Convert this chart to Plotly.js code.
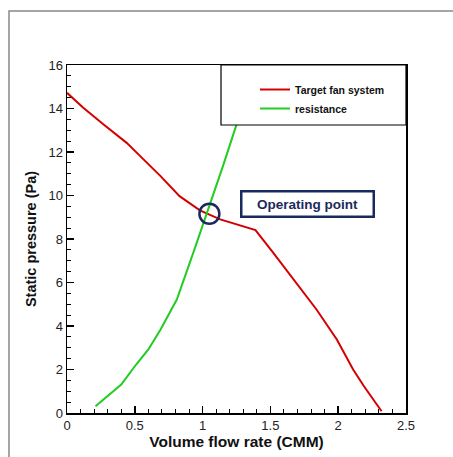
<!DOCTYPE html>
<html>
<head>
<meta charset="utf-8">
<script src="https://cdn.plot.ly/plotly-3.0.1.min.js"></script>
<style>
  html, body { margin: 0; padding: 0; background: #fff; }
  #chart { width: 453px; height: 457px; }
</style>
</head>
<body>
<div id="chart"></div>
<script>
// Target fan system curve
const fanFlow = [0, 0.12, 0.27, 0.44, 0.54, 0.69, 0.83, 0.98, 1.13, 1.28, 1.39, 1.52, 1.71, 1.84, 1.99, 2.11, 2.19, 2.32];
const fanPressure = [14.72, 14.03, 13.26, 12.42, 11.81, 10.89, 9.97, 9.32, 8.9, 8.62, 8.41, 7.37, 5.83, 4.76, 3.38, 2.0, 1.23, 0.08];
// System resistance curve
const resFlow = [0.21, 0.40, 0.51, 0.60, 0.69, 0.81, 0.94, 1.05, 1.15, 1.25, 1.31];
const resPressure = [0.31, 1.31, 2.23, 2.92, 3.84, 5.22, 7.52, 9.51, 11.35, 13.26, 14.6];
// Operating point
const opFlow = [1.05];
const opPressure = [9.16];
const opLabel = "Operating point";

const navy = '#1b2a5c';

const traces = [
  { x: fanFlow, y: fanPressure, type: 'scatter', mode: 'lines', name: 'Target fan system',
    line: { color: '#d40000', width: 2 } },
  { x: resFlow, y: resPressure, type: 'scatter', mode: 'lines', name: 'resistance',
    line: { color: '#22cc22', width: 2 } },
  { x: opFlow, y: opPressure, type: 'scatter', mode: 'markers', showlegend: false,
    marker: { symbol: 'circle-open', size: 20, color: navy, line: { color: navy, width: 2.5 } } }
];

const L = 67, R = 47, T = 65, B = 44;
const PW = 453 - L - R, PH = 457 - T - B;
const px = v => (v - L) / PW;
const py = v => (457 - B - v) / PH;

const layout = {
  width: 453, height: 457,
  margin: { l: L, r: R, t: T, b: B },
  paper_bgcolor: '#fff', plot_bgcolor: '#fff',
  font: { family: 'Liberation Sans, Arial, sans-serif', color: '#111' },
  showlegend: true,
  legend: {
    x: px(255), y: py(75), xanchor: 'left', yanchor: 'top',
    bgcolor: 'rgba(0,0,0,0)', borderwidth: 0,
    font: { size: 10.5, color: '#111', family: 'Liberation Sans, Arial, sans-serif', weight: 'bold' },
    tracegroupgap: 0, itemwidth: 30
  },
  xaxis: {
    range: [0, 2.5], dtick: 0.5, tick0: 0,
    ticks: 'inside', ticklen: 7, tickwidth: 1.5, tickcolor: '#000',
    minor: { dtick: 0.1, ticks: 'inside', ticklen: 4, tickwidth: 1, tickcolor: '#000' },
    showline: true, linecolor: '#000', linewidth: 1.5, mirror: true,
    showgrid: false, zeroline: false,
    tickfont: { size: 13, color: '#222' },
    title: { text: 'Volume flow rate (CMM)', standoff: 2,
      font: { size: 15.5, color: '#111', weight: 'bold' } }
  },
  yaxis: {
    range: [0, 16], dtick: 2, tick0: 0,
    ticks: 'inside', ticklen: 7, tickwidth: 1.5, tickcolor: '#000',
    minor: { dtick: 0.5, ticks: 'inside', ticklen: 4, tickwidth: 1, tickcolor: '#000' },
    showline: true, linecolor: '#000', linewidth: 1.5, mirror: true,
    showgrid: false, zeroline: false,
    tickfont: { size: 13, color: '#222' },
    title: { text: 'Static pressure (Pa)', standoff: 8,
      font: { size: 14.5, color: '#111', weight: 'bold' } }
  },
  shapes: [
    // outer frame
    { type: 'rect', xref: 'paper', yref: 'paper',
      x0: px(9), x1: px(470), y0: py(470), y1: py(11),
      line: { color: '#888', width: 1.5 }, fillcolor: 'rgba(0,0,0,0)', layer: 'below' },
    // legend box
    { type: 'rect', xref: 'paper', yref: 'paper',
      x0: px(221), x1: 1, y0: py(125), y1: 1,
      line: { color: '#000', width: 1.2 }, fillcolor: '#fff', layer: 'above' }
  ],
  annotations: [
    { x: 1.77, y: 9.63, xref: 'x', yref: 'y', text: '<b>' + opLabel + '</b>', showarrow: false,
      font: { size: 13.5, color: navy, family: 'Liberation Sans, Arial, sans-serif' },
      bordercolor: navy, borderwidth: 2.5, borderpad: 3, bgcolor: '#fff',
      width: 124, height: 17 }
  ]
};

Plotly.newPlot('chart', traces, layout, { displayModeBar: false, staticPlot: true });
</script>
</body>
</html>
